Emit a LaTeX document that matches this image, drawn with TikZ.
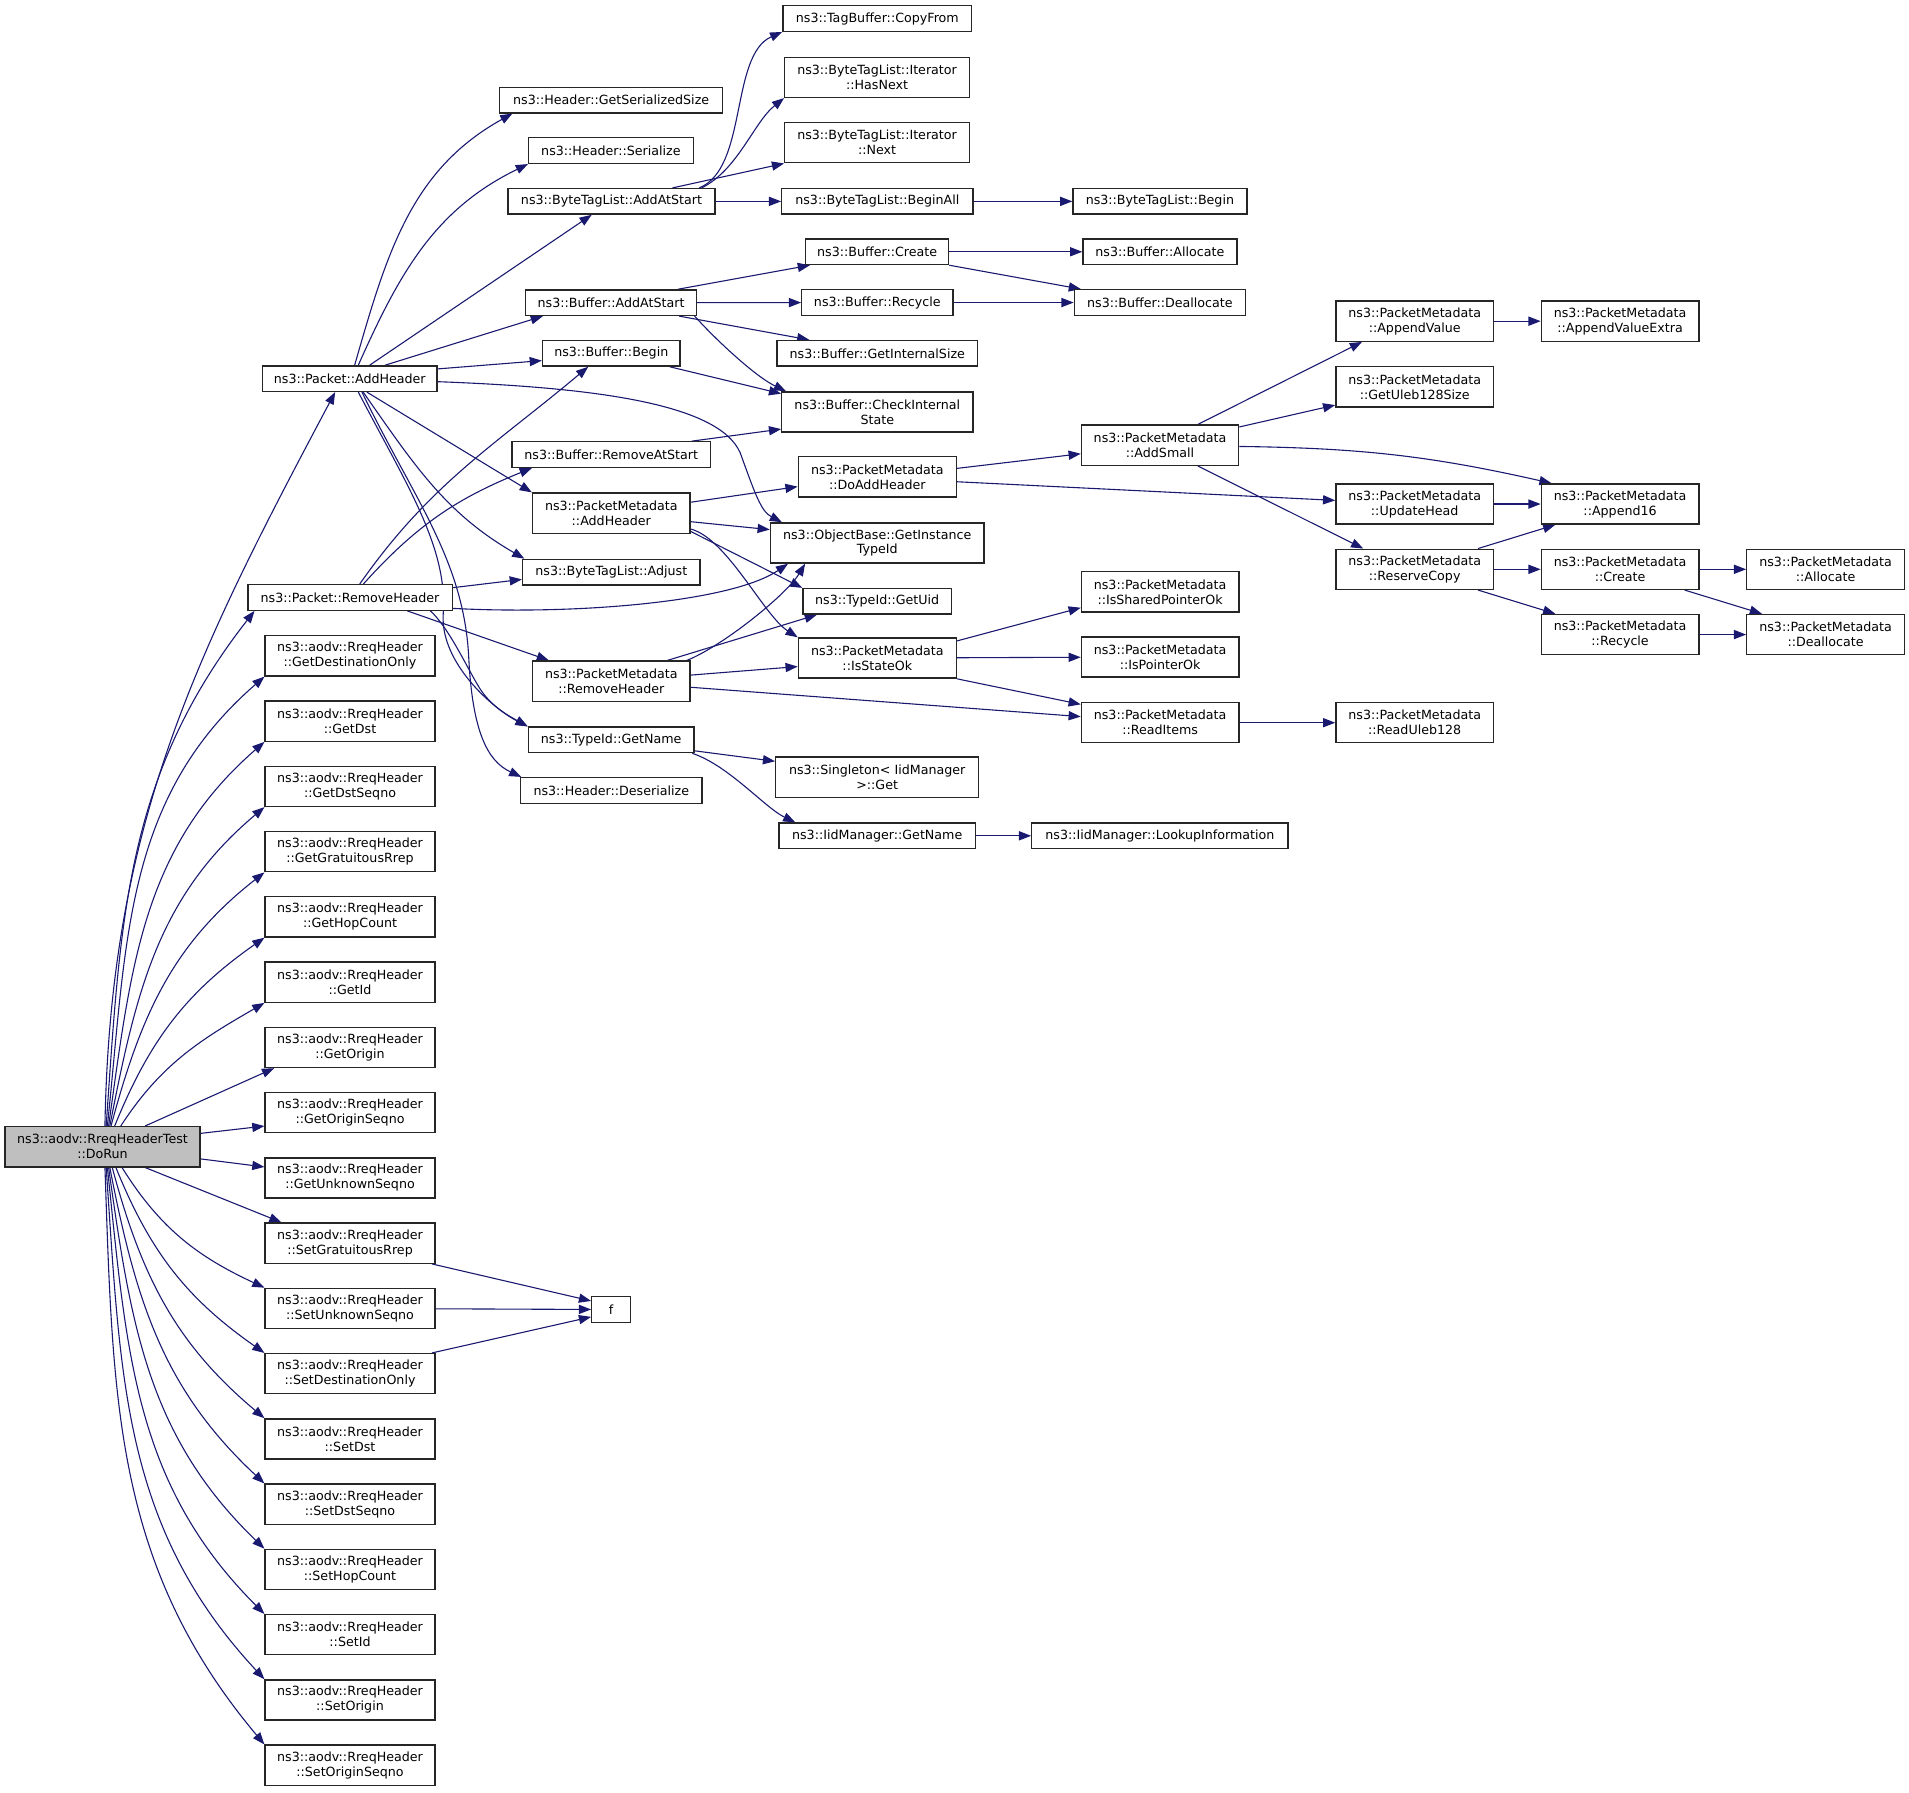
\documentclass[tikz,border=0pt]{standalone}
\usepackage{fontspec}
\setmainfont{DejaVu Sans}
\usetikzlibrary{arrows.meta,backgrounds}
\definecolor{callblue}{HTML}{191970}
\definecolor{rootgray}{HTML}{BFBFBF}

\begin{document}
\begin{tikzpicture}[
    x=1pt,y=1pt,
    fn/.style={draw=black!85, fill=white, line width=1.1pt, inner sep=0pt, align=center,
      font=\fontsize{10.4}{12.3}\selectfont, minimum height=21pt},
    fn2/.style={fn, minimum height=33pt},
    call/.style={draw=callblue, line width=0.9pt, -{Triangle[length=10pt,width=7.5pt]}}
    ]
    \useasboundingbox (0,0) rectangle (1568,-1472.7);
    % caller
    \node[fn2, fill=rootgray, minimum width=160.3pt] (dorun) at (84.2,-941.9) {ns3::aodv::RreqHeaderTest\\::DoRun};
    % first level
    \node[fn, minimum width=143.4pt] (addhdr) at (287.3,-311) {ns3::Packet::AddHeader};
    \node[fn, minimum width=167.8pt] (rmhdr) at (287.5,-490.7) {ns3::Packet::RemoveHeader};
    \node[fn2, minimum width=139.5pt] (rreq0) at (287.5,-538.7) {ns3::aodv::RreqHeader\\::GetDestinationOnly};
    \node[fn2, minimum width=139.5pt] (rreq1) at (287.5,-592.3) {ns3::aodv::RreqHeader\\::GetDst};
    \node[fn2, minimum width=139.5pt] (rreq2) at (287.5,-645.9) {ns3::aodv::RreqHeader\\::GetDstSeqno};
    \node[fn2, minimum width=139.5pt] (rreq3) at (287.5,-699.5) {ns3::aodv::RreqHeader\\::GetGratuitousRrep};
    \node[fn2, minimum width=139.5pt] (rreq4) at (287.5,-753.1) {ns3::aodv::RreqHeader\\::GetHopCount};
    \node[fn2, minimum width=139.5pt] (rreq5) at (287.5,-806.7) {ns3::aodv::RreqHeader\\::GetId};
    \node[fn2, minimum width=139.5pt] (rreq6) at (287.5,-860.3) {ns3::aodv::RreqHeader\\::GetOrigin};
    \node[fn2, minimum width=139.5pt] (rreq7) at (287.5,-913.9) {ns3::aodv::RreqHeader\\::GetOriginSeqno};
    \node[fn2, minimum width=139.5pt] (rreq8) at (287.5,-967.5) {ns3::aodv::RreqHeader\\::GetUnknownSeqno};
    \node[fn2, minimum width=139.5pt] (rreq9) at (287.5,-1021.1) {ns3::aodv::RreqHeader\\::SetGratuitousRrep};
    \node[fn2, minimum width=139.5pt] (rreq10) at (287.5,-1074.7) {ns3::aodv::RreqHeader\\::SetUnknownSeqno};
    \node[fn2, minimum width=139.5pt] (rreq11) at (287.5,-1128.3) {ns3::aodv::RreqHeader\\::SetDestinationOnly};
    \node[fn2, minimum width=139.5pt] (rreq12) at (287.5,-1181.9) {ns3::aodv::RreqHeader\\::SetDst};
    \node[fn2, minimum width=139.5pt] (rreq13) at (287.5,-1235.5) {ns3::aodv::RreqHeader\\::SetDstSeqno};
    \node[fn2, minimum width=139.5pt] (rreq14) at (287.5,-1289.1) {ns3::aodv::RreqHeader\\::SetHopCount};
    \node[fn2, minimum width=139.5pt] (rreq15) at (287.5,-1342.7) {ns3::aodv::RreqHeader\\::SetId};
    \node[fn2, minimum width=139.5pt] (rreq16) at (287.5,-1396.3) {ns3::aodv::RreqHeader\\::SetOrigin};
    \node[fn2, minimum width=139.5pt] (rreq17) at (287.5,-1449.9) {ns3::aodv::RreqHeader\\::SetOriginSeqno};
    % second level
    \node[fn, minimum width=183.1pt] (getsersize) at (502,-82.2) {ns3::Header::GetSerializedSize};
    \node[fn, minimum width=135.2pt] (serialize) at (501.8,-123.7) {ns3::Header::Serialize};
    \node[fn, minimum width=170.1pt] (btladd) at (502.3,-165.4) {ns3::ByteTagList::AddAtStart};
    \node[fn, minimum width=140.2pt] (bufadd) at (501.9,-248.6) {ns3::Buffer::AddAtStart};
    \node[fn, minimum width=113pt] (bufbegin) at (502.1,-290.2) {ns3::Buffer::Begin};
    \node[fn, minimum width=163.4pt] (bufremove) at (502.1,-373.4) {ns3::Buffer::RemoveAtStart};
    \node[fn2, minimum width=129.4pt] (pmaddhdr) at (502.1,-421.5) {ns3::PacketMetadata\\::AddHeader};
    \node[fn, minimum width=145.8pt] (btladjust) at (502.1,-469.9) {ns3::ByteTagList::Adjust};
    \node[fn2, minimum width=129.4pt] (pmrmhdr) at (502.1,-559.5) {ns3::PacketMetadata\\::RemoveHeader};
    \node[fn, minimum width=136.1pt] (tidname) at (502,-607.7) {ns3::TypeId::GetName};
    \node[fn, minimum width=148.8pt] (deser) at (502.1,-649.2) {ns3::Header::Deserialize};
    \node[fn, minimum width=31.9pt] (f) at (502,-1075.6) {f};
    % third level
    \node[fn, minimum width=155.1pt] (copyfrom) at (720.6,-15.2) {ns3::TagBuffer::CopyFrom};
    \node[fn2, minimum width=151.7pt] (hasnext) at (720.4,-63.5) {ns3::ByteTagList::Iterator\\::HasNext};
    \node[fn2, minimum width=151.7pt] (itnext) at (720.4,-117.2) {ns3::ByteTagList::Iterator\\::Next};
    \node[fn, minimum width=156.9pt] (beginall) at (720.6,-165.4) {ns3::ByteTagList::BeginAll};
    \node[fn, minimum width=117.4pt] (bufcreate) at (720.5,-206.8) {ns3::Buffer::Create};
    \node[fn, minimum width=124.1pt] (bufrecycle) at (720.6,-248.5) {ns3::Buffer::Recycle};
    \node[fn, minimum width=164.6pt] (intsize) at (720.6,-290.2) {ns3::Buffer::GetInternalSize};
    \node[fn2, minimum width=156.9pt] (checkint) at (720.6,-338.4) {ns3::Buffer::CheckInternal\\State};
    \node[fn2, minimum width=129.9pt] (doaddhdr) at (720.6,-391.7) {ns3::PacketMetadata\\::DoAddHeader};
    \node[fn2, minimum width=175.4pt] (getinst) at (720.5,-446) {ns3::ObjectBase::GetInstance\\TypeId};
    \node[fn, minimum width=122pt] (getuid) at (720.5,-493.9) {ns3::TypeId::GetUid};
    \node[fn2, minimum width=129.7pt] (stateok) at (720.6,-540.5) {ns3::PacketMetadata\\::IsStateOk};
    \node[fn2, minimum width=166.6pt] (singleton) at (720.5,-638.3) {ns3::Singleton< IidManager\\>::Get};
    \node[fn, minimum width=161.4pt] (iidname) at (720.5,-686.5) {ns3::IidManager::GetName};
    % fourth level
    \node[fn, minimum width=142.8pt] (btlbegin) at (952.7,-165.4) {ns3::ByteTagList::Begin};
    \node[fn, minimum width=126.4pt] (bufalloc) at (952.7,-206.8) {ns3::Buffer::Allocate};
    \node[fn, minimum width=140.6pt] (bufdealloc) at (952.7,-248.5) {ns3::Buffer::Deallocate};
    \node[fn2, minimum width=129.1pt] (addsmall) at (952.8,-365.7) {ns3::PacketMetadata\\::AddSmall};
    \node[fn2, minimum width=129.3pt] (sharedok) at (952.9,-486.1) {ns3::PacketMetadata\\::IsSharedPointerOk};
    \node[fn2, minimum width=129.3pt] (pointerok) at (952.9,-539.6) {ns3::PacketMetadata\\::IsPointerOk};
    \node[fn2, minimum width=129.3pt] (readitems) at (952.9,-593.6) {ns3::PacketMetadata\\::ReadItems};
    \node[fn, minimum width=210.4pt] (lookup) at (952.7,-686.5) {ns3::IidManager::LookupInformation};
    % fifth to seventh level
    \node[fn2, minimum width=129.5pt] (appendval) at (1162,-263.8) {ns3::PacketMetadata\\::AppendValue};
    \node[fn2, minimum width=129.5pt] (ulebsize) at (1162,-317.7) {ns3::PacketMetadata\\::GetUleb128Size};
    \node[fn2, minimum width=129.5pt] (updatehead) at (1162,-414) {ns3::PacketMetadata\\::UpdateHead};
    \node[fn2, minimum width=129.5pt] (reservecopy) at (1162,-467.6) {ns3::PacketMetadata\\::ReserveCopy};
    \node[fn2, minimum width=129.5pt] (readuleb) at (1162,-593.6) {ns3::PacketMetadata\\::ReadUleb128};
    \node[fn2, minimum width=129.4pt] (appendextra) at (1330.7,-263.8) {ns3::PacketMetadata\\::AppendValueExtra};
    \node[fn2, minimum width=129.4pt] (append16) at (1330.7,-414) {ns3::PacketMetadata\\::Append16};
    \node[fn2, minimum width=129.4pt] (pmcreate) at (1330.7,-467.6) {ns3::PacketMetadata\\::Create};
    \node[fn2, minimum width=129.4pt] (pmrecycle) at (1330.7,-521.2) {ns3::PacketMetadata\\::Recycle};
    \node[fn2, minimum width=129.5pt] (pmalloc) at (1499.5,-467.6) {ns3::PacketMetadata\\::Allocate};
    \node[fn2, minimum width=129.5pt] (pmdealloc) at (1499.5,-521.2) {ns3::PacketMetadata\\::Deallocate};

    \begin{scope}[on background layer]
    % calls from DoRun
    \draw[call] ([xshift=2]dorun.north) to[out=89,in=-118] ([xshift=-12]addhdr.south);
    \draw[call] ([xshift=3]dorun.north) to[out=86,in=-128] ([xshift=6]rmhdr.south west);
    \draw[call] ([xshift=4]dorun.north) to[out=84,in=-139] (rreq0.south west);
    \draw[call] ([xshift=5]dorun.north) to[out=82,in=-139] (rreq1.south west);
    \draw[call] ([xshift=6]dorun.north) to[out=79,in=-140] (rreq2.south west);
    \draw[call] ([xshift=7]dorun.north) to[out=75,in=-142] (rreq3.south west);
    \draw[call] ([xshift=10]dorun.north) to[out=68,in=-145] (rreq4.south west);
    \draw[call] ([xshift=15]dorun.north) to[out=57,in=-150] (rreq5.south west);
    \draw[call] ([xshift=35]dorun.north) -- ([xshift=8]rreq6.south west);
    \draw[call] ([yshift=11]dorun.east) -- ([yshift=-11]rreq7.west);
    \draw[call] ([yshift=-10]dorun.east) -- ([yshift=9]rreq8.west);
    \draw[call] ([xshift=35]dorun.south) -- ([xshift=14]rreq9.north west);
    \draw[call] ([xshift=16]dorun.south) to[out=-58,in=155] (rreq10.north west);
    \draw[call] ([xshift=11]dorun.south) to[out=-68,in=145] (rreq11.north west);
    \draw[call] ([xshift=8]dorun.south) to[out=-75,in=140] (rreq12.north west);
    \draw[call] ([xshift=6]dorun.south) to[out=-79,in=137] (rreq13.north west);
    \draw[call] ([xshift=5]dorun.south) to[out=-82,in=136] (rreq14.north west);
    \draw[call] ([xshift=4]dorun.south) to[out=-84,in=135] (rreq15.north west);
    \draw[call] ([xshift=3]dorun.south) to[out=-86,in=133] (rreq16.north west);
    \draw[call] ([xshift=2]dorun.south) to[out=-88,in=130] (rreq17.north west);
    % Packet::AddHeader
    \draw[call] ([xshift=4]addhdr.north) to[out=74,in=-151] ([xshift=11]getsersize.south west);
    \draw[call] ([xshift=7]addhdr.north) to[out=66,in=-154] (serialize.south west);
    \draw[call] (addhdr) -- (btladd);
    \draw[call] ([xshift=29]addhdr.north) -- ([xshift=-56]bufadd.south);
    \draw[call] ([yshift=8]addhdr.east) -- ([yshift=-6]bufbegin.west);
    \draw[call] ([yshift=-2.5]addhdr.east) .. controls (480,-318) and (590,-330) .. (608,-372)
      .. controls (620,-405) and (625,-420) .. ([xshift=10]getinst.north west);
    \draw[call] ([xshift=14]addhdr.south) -- (pmaddhdr.north west);
    \draw[call] ([xshift=11]addhdr.south) to[out=-55,in=150] ([xshift=2]btladjust.north west);
    \draw[call] ([xshift=7]addhdr.south) .. controls (335,-400) and (368,-450) .. (364,-505)
      .. controls (362,-545) and (405,-582) .. (tidname.north west);
    \draw[call] ([xshift=10]addhdr.south) .. controls (340,-410) and (381,-460) .. (385,-540)
      .. controls (388,-600) and (400,-625) .. ([xshift=1]deser.north west);
    % Packet::RemoveHeader
    \draw[call] ([xshift=8]rmhdr.north) to[out=55,in=-140] ([xshift=-19]bufbegin.south);
    \draw[call] ([xshift=11]rmhdr.north) to[out=48,in=-158] ([xshift=17]bufremove.south west);
    \draw[call] ([yshift=8]rmhdr.east) -- ([yshift=-6]btladjust.west);
    \draw[call] ([yshift=-9]rmhdr.east) .. controls (470,-505) and (600,-495) .. ([xshift=15]getinst.south west);
    \draw[call] ([xshift=47]rmhdr.south) -- ([xshift=14]pmrmhdr.north west);
    \draw[call] ([xshift=66]rmhdr.south) .. controls (368,-515) and (382,-545) .. (392,-562)
      .. controls (402,-580) and (418,-588) .. (tidname.north west);
    % ByteTagList and Buffer
    \draw[call] ([xshift=72]btladd.north) .. controls +(40,16) and +(-43,-19) .. (copyfrom.south west);
    \draw[call] ([xshift=74]btladd.north) .. controls +(30,15) and +(-25,-20) .. (hasnext.south west);
    \draw[call] ([xshift=50]btladd.north) -- (itnext.south west);
    \draw[call] (btladd) -- (beginall);
    \draw[call] (beginall) -- (btlbegin);
    \draw[call] ([xshift=55]bufadd.north) -- ([xshift=4]bufcreate.south west);
    \draw[call] (bufadd) -- (bufrecycle);
    \draw[call] ([xshift=56]bufadd.south) -- ([xshift=27]intsize.north west);
    \draw[call] ([xshift=-2]bufadd.south east) .. controls +(18,-20) and +(-25,12) .. ([xshift=4]checkint.north west);
    \draw[call] ([xshift=48]bufbegin.south) -- ([yshift=-2]checkint.north west);
    \draw[call] ([xshift=66]bufremove.north) -- ([yshift=3]checkint.south west);
    \draw[call] (bufcreate) -- (bufalloc);
    \draw[call] (bufcreate.south east) -- ([xshift=6]bufdealloc.north west);
    \draw[call] (bufrecycle) -- (bufdealloc);
    % PacketMetadata
    \draw[call] ([yshift=9]pmaddhdr.east) -- ([yshift=-8]doaddhdr.west);
    \draw[call] ([yshift=-7]pmaddhdr.east) -- ([yshift=11]getinst.west);
    \draw[call] ([yshift=-15]pmaddhdr.east) -- (getuid.north west);
    \draw[call] ([yshift=-13]pmaddhdr.east) .. controls +(30,-8) and +(-28,18) .. (stateok.north west);
    \draw[call] ([xshift=46]pmrmhdr.north) -- ([xshift=12]getuid.south west);
    \draw[call] ([xshift=62]pmrmhdr.north) .. controls +(30,12) and +(-15,-25) .. ([xshift=29]getinst.south west);
    \draw[call] ([yshift=5]pmrmhdr.east) -- ([yshift=-7]stateok.west);
    \draw[call] ([yshift=-5]pmrmhdr.east) -- ([yshift=5]readitems.west);
    \draw[call] ([yshift=7]doaddhdr.east) -- ([yshift=-7]addsmall.west);
    \draw[call] ([yshift=-4]doaddhdr.east) -- ([yshift=3]updatehead.west);
    \draw[call] ([xshift=31]addsmall.north) -- ([xshift=22]appendval.south west);
    \draw[call] ([yshift=15]addsmall.east) -- ([yshift=-15]ulebsize.west);
    \draw[call] ([yshift=-1]addsmall.east) to[bend left=6] ([xshift=9]append16.north west);
    \draw[call] ([xshift=31]addsmall.south) -- ([xshift=23]reservecopy.north west);
    \draw[call] (appendval) -- (appendextra);
    \draw[call] (updatehead) -- (append16);
    \draw[call] ([xshift=52]reservecopy.north) -- ([xshift=12]append16.south west);
    \draw[call] (reservecopy) -- (pmcreate);
    \draw[call] ([xshift=52]reservecopy.south) -- ([xshift=12]pmrecycle.north west);
    \draw[call] (pmcreate) -- (pmalloc);
    \draw[call] ([xshift=53]pmcreate.south) -- ([xshift=13]pmdealloc.north west);
    \draw[call] (pmrecycle) -- (pmdealloc);
    \draw[call] ([yshift=-3]stateok.north east) -- ([yshift=4]sharedok.south west);
    \draw[call] (stateok) -- (pointerok);
    \draw[call] (stateok.south east) -- ([yshift=-2]readitems.north west);
    \draw[call] (readitems) -- (readuleb);
    % TypeId
    \draw[call] ([yshift=-9]tidname.east) -- ([yshift=13]singleton.west);
    \draw[call] ([xshift=-2]tidname.south east) .. controls +(30,-10) and +(-25,12) .. ([xshift=14]iidname.north west);
    \draw[call] (iidname) -- (lookup);
    % setters
    \draw[call] ([xshift=-3]rreq9.south east) -- ([yshift=-4]f.north west);
    \draw[call] (rreq10) -- (f);
    \draw[call] ([xshift=-3]rreq11.north east) -- ([yshift=5]f.south west);
    \end{scope}
\end{tikzpicture}
\end{document}
